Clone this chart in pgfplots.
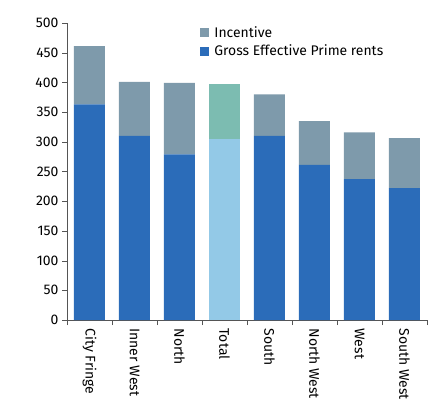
\documentclass[border=0pt]{standalone}
\usepackage{pgfplots}
\pgfplotsset{compat=1.18}
\usepackage{fontspec}
\setmainfont{Fira Sans}

\definecolor{gepr}{HTML}{2B6CB9}
\definecolor{incent}{HTML}{7E9AAB}
\definecolor{totlow}{HTML}{93C9E7}
\definecolor{tothigh}{HTML}{7CBCB1}
\definecolor{axisgray}{HTML}{555555}

\begin{document}
\begin{tikzpicture}[x=1bp,y=1bp]
\begin{axis}[
  scale only axis,
  width=360bp, height=297bp,
  ybar stacked,
  bar width=31bp,
  ymin=0, ymax=500,
  ytick={0,50,...,500},
  xmin=-0.5, xmax=7.5,
  xtick={0,...,7},
  xticklabels={City Fringe,Inner West,North,Total,South,North West,West,South West},
  minor xtick={-0.5,0.5,...,7.5},
  major x tick style={draw=none},
  minor x tick style={axisgray},
  ytick style={axisgray},
  tick align=outside,
  major tick length=5bp,
  minor tick length=5bp,
  axis x line*=bottom,
  axis y line*=left,
  axis line style={axisgray, line width=0.8pt},
  tick label style={font=\fontsize{14}{16}\selectfont},
  x tick label style={rotate=-90, anchor=west},
  /pgf/number format/assume math mode=true,
  reverse legend,
  legend cell align=left,
  legend style={draw=none, fill=none, at={(0.37,0.995)}, anchor=north west,
    font=\fontsize{14}{16}\selectfont, row sep=2bp, inner sep=0pt,
    /tikz/every odd column/.append style={column sep=3bp}},
  legend image code/.code={\fill[#1] (0bp,-4.5bp) rectangle (9bp,4.5bp);},
]
% base: gross effective prime rents
\addplot[fill=gepr, draw=none] coordinates
  {(0,363) (1,310) (2,279) (3,0) (4,310) (5,261) (6,237) (7,222)};
\addlegendentry{Gross Effective Prime rents}
% base of the Total bar
\addplot[fill=totlow, draw=none, forget plot] coordinates
  {(0,0) (1,0) (2,0) (3,305) (4,0) (5,0) (6,0) (7,0)};
% incentive on top
\addplot[fill=incent, draw=none] coordinates
  {(0,98) (1,91) (2,120) (3,0) (4,70) (5,74) (6,79) (7,84)};
\addlegendentry{Incentive}
% incentive of the Total bar
\addplot[fill=tothigh, draw=none, forget plot] coordinates
  {(0,0) (1,0) (2,0) (3,92) (4,0) (5,0) (6,0) (7,0)};
\end{axis}
\pgfresetboundingbox
\path (-67bp,-80bp) rectangle (367bp,320bp);
\end{tikzpicture}
\end{document}
